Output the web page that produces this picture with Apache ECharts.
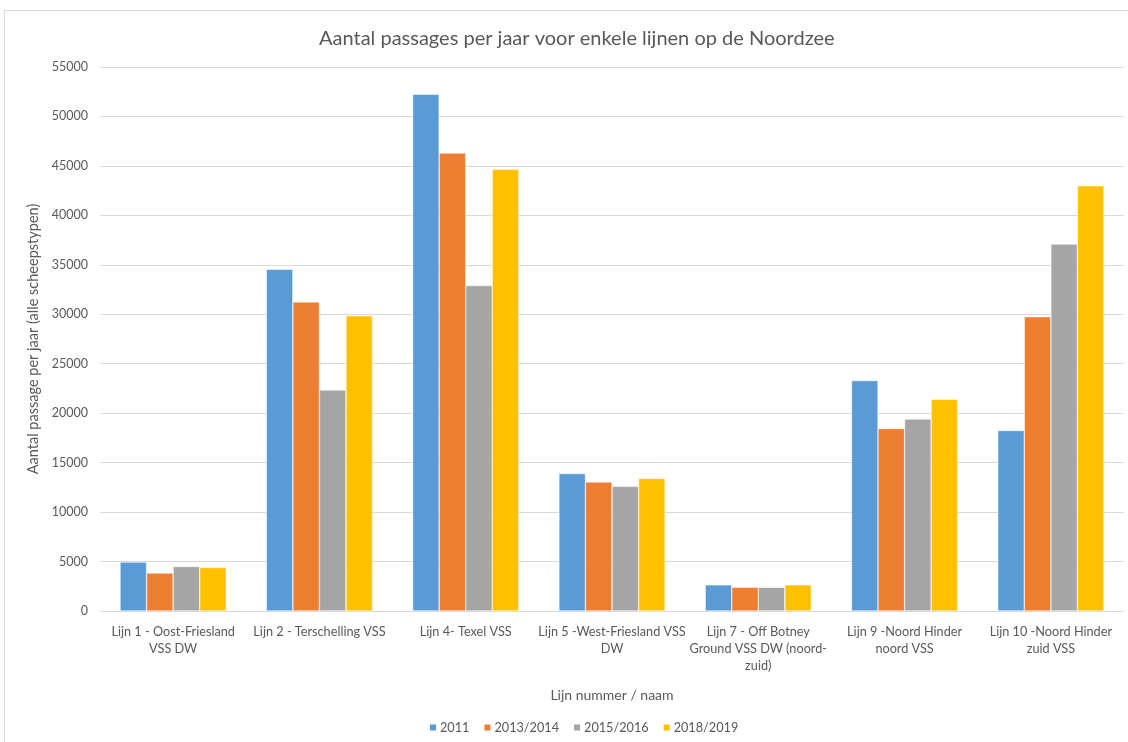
<!DOCTYPE html>
<html><head><meta charset="utf-8">
<script src="https://cdn.jsdelivr.net/npm/echarts@6/dist/echarts.min.js"></script>
<style>
html,body{margin:0;padding:0;background:#fff;}
#frame{position:absolute;left:4px;top:10px;width:1140px;height:760px;border:1px solid #d9d9d9;}
#c{position:absolute;left:0;top:0;width:1128px;height:742px;}
</style></head>
<body>
<div id="frame"></div>
<div id="c"></div>
<script>
const categories = [
  "Lijn 1 - Oost-Friesland\nVSS DW",
  "Lijn 2 - Terschelling VSS",
  "Lijn 4- Texel VSS",
  "Lijn 5 -West-Friesland VSS\nDW",
  "Lijn 7 - Off Botney\nGround VSS DW (noord-\nzuid)",
  "Lijn 9 -Noord Hinder\nnoord VSS",
  "Lijn 10 -Noord Hinder\nzuid VSS"
];
const seriesNames = ["2011", "2013/2014", "2015/2016", "2018/2019"];
const v2011 = [4950, 34550, 52250, 13900, 2650, 23300, 18250];
const v2013 = [3850, 31250, 46300, 13050, 2400, 18450, 29750];
const v2015 = [4500, 22350, 32900, 12600, 2400, 19400, 37100];
const v2018 = [4400, 29850, 44650, 13400, 2650, 21400, 43000];
const colors = ["#5b9bd5", "#ed7d31", "#a5a5a5", "#ffc000"];
const yTicks = [0, 5000, 10000, 15000, 20000, 25000, 30000, 35000, 40000, 45000, 50000, 55000];
const yTitle = "Aantal passage per jaar (alle scheepstypen)";

const font = "Lato, 'Open Sans', sans-serif";
// fit the y-axis title to the reference length (~271px)
const cv = document.createElement('canvas').getContext('2d');
cv.font = "100px " + font;
let yTitleSize = 271 / cv.measureText(yTitle).width * 100;
if (!isFinite(yTitleSize) || yTitleSize < 10 || yTitleSize > 16) yTitleSize = 13;

const allValues = [v2011, v2013, v2015, v2018];
const chart = echarts.init(document.getElementById('c'), null, {renderer: 'canvas'});
chart.setOption({
  animation: false,
  backgroundColor: 'transparent',
  title: {
    text: "Aantal passages per jaar voor enkele lijnen op de Noordzee",
    left: 314, top: 24,
    textStyle: {fontFamily: font, fontSize: 20, fontWeight: 'normal', color: '#595959'}
  },
  legend: {
    data: seriesNames, top: 716, left: 423,
    itemWidth: 8, itemHeight: 8, itemGap: 13, icon: 'rect',
    textStyle: {fontFamily: font, fontSize: 12.7, color: '#595959', padding: [0,0,0,-2]}
  },
  grid: {left: 100, right: 4, top: 67, bottom: 131},
  xAxis: {
    type: 'category', data: categories,
    name: "Lijn nummer / naam", nameLocation: 'middle', nameGap: 77,
    nameTextStyle: {fontFamily: font, fontSize: 14, color: '#595959'},
    axisLine: {lineStyle: {color: '#d9d9d9'}},
    axisTick: {show: false},
    axisLabel: {fontFamily: font, fontSize: 12.7, color: '#595959', lineHeight: 17, margin: 12, interval: 0}
  },
  yAxis: {
    type: 'value', min: yTicks[0], max: yTicks[yTicks.length-1], interval: 5000,
    name: yTitle, nameLocation: 'middle', nameGap: 47,
    nameTextStyle: {fontFamily: font, fontSize: yTitleSize, color: '#595959'},
    axisLine: {show: false}, axisTick: {show: false},
    axisLabel: {fontFamily: font, fontSize: 12.5, color: '#595959', margin: 12, formatter: v => String(v)},
    splitLine: {lineStyle: {color: '#d9d9d9', width: 1}}
  },
  series: seriesNames.map((n, i) => ({
    name: n, type: 'bar', data: allValues[i],
    barGap: '0%', barCategoryGap: '27.4%',
    itemStyle: {color: colors[i], borderColor: '#ffffff', borderWidth: 0.5}
  }))
});
</script>
</body></html>
